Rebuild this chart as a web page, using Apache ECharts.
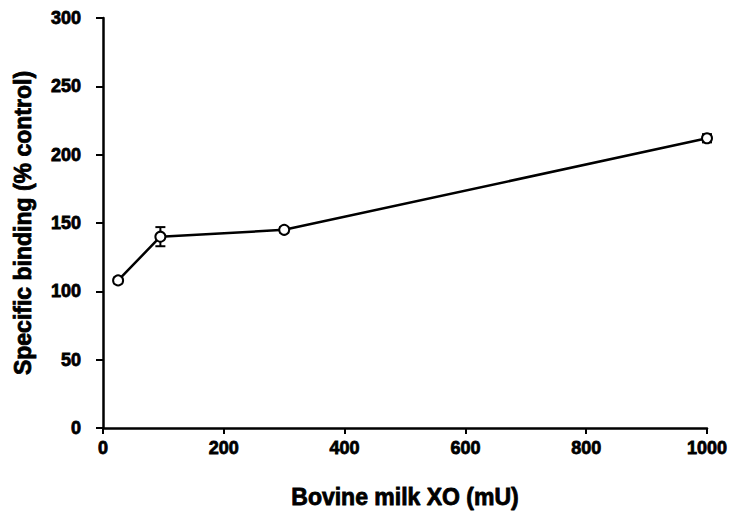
<!DOCTYPE html>
<html>
<head>
<meta charset="utf-8">
<script src="https://cdn.jsdelivr.net/npm/echarts@6/dist/echarts.min.js"></script>
<style>
  html, body { margin: 0; padding: 0; background: #fff; }
  #chart { width: 739px; height: 518px; }
</style>
</head>
<body>
<div id="chart"></div>
<script>
const xoDose = [25, 95, 300, 1000];
const binding = [108, 140, 145, 212];
const bindingErr = [2, 7, 2, 3];
const xTicks = [0, 200, 400, 600, 800, 1000];
const yTicks = [0, 50, 100, 150, 200, 250, 300];

const font = "'Liberation Sans', Arial, sans-serif";
const heavy = { fontFamily: font, fontWeight: "bold", color: "#000", textBorderColor: "#000", textBorderWidth: 0.8 };

let lineData = xoDose.map((x, i) => [x, binding[i]]);
let errData = xoDose.map((x, i) => [x, binding[i] - bindingErr[i], binding[i] + bindingErr[i]]);

let renderErr = (params, api) => {
    const x = api.value(0);
    const lo = api.coord([x, api.value(1)]);
    const hi = api.coord([x, api.value(2)]);
    const w = 5;
    const style = { stroke: "#000", lineWidth: 2 };
    return {
        type: "group",
        children: [
            { type: "line", shape: { x1: lo[0], y1: lo[1], x2: hi[0], y2: hi[1] }, style },
            { type: "line", shape: { x1: lo[0] - w, y1: lo[1], x2: lo[0] + w, y2: lo[1] }, style },
            { type: "line", shape: { x1: hi[0] - w, y1: hi[1], x2: hi[0] + w, y2: hi[1] }, style }
        ]
    };
};

const chart = echarts.init(document.querySelector("#chart"), null, { renderer: "svg" });
chart.setOption({
    animation: false,
    grid: { left: 103, right: 32, top: 18, bottom: 90 },
    xAxis: {
        type: "value",
        min: 0, max: 1000, interval: 200,
        name: "Bovine milk XO (mU)",
        nameLocation: "middle",
        nameGap: 57,
        nameTextStyle: Object.assign({ fontSize: 23 }, heavy),
        axisLine: { show: true, lineStyle: { color: "#000", width: 2.5 } },
        axisTick: { show: true, length: 6, lineStyle: { color: "#000", width: 2 } },
        axisLabel: Object.assign({
            fontSize: 18, margin: 11,
            formatter: v => xTicks.includes(v) ? String(v) : ""
        }, heavy),
        splitLine: { show: false }
    },
    yAxis: {
        type: "value",
        min: 0, max: 300, interval: 50,
        name: "Specific binding (% control)",
        nameLocation: "middle",
        nameGap: 69,
        nameTextStyle: Object.assign({ fontSize: 23 }, heavy),
        axisLine: { show: true, lineStyle: { color: "#000", width: 2.5 } },
        axisTick: { show: true, length: 7, lineStyle: { color: "#000", width: 2 } },
        axisLabel: Object.assign({
            fontSize: 18, margin: 22,
            formatter: v => yTicks.includes(v) ? String(v) : ""
        }, heavy),
        splitLine: { show: false }
    },
    series: [
        {
            type: "custom",
            renderItem: renderErr,
            data: errData,
            encode: { x: 0, y: [1, 2] },
            z: 1
        },
        {
            type: "line",
            data: lineData,
            symbol: "emptyCircle",
            symbolSize: 10,
            lineStyle: { color: "#000", width: 2.5 },
            itemStyle: { color: "#000", borderColor: "#000", borderWidth: 2.5 },
            z: 3
        }
    ]
});
</script>
</body>
</html>
